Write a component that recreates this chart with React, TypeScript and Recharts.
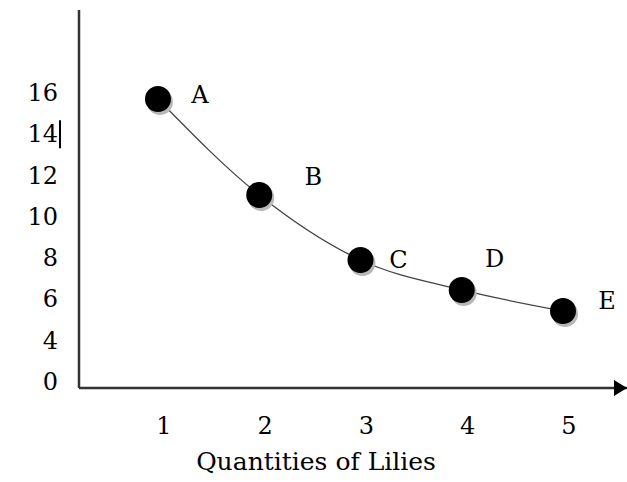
import React from 'react';
import { ComposedChart, Line, XAxis, YAxis, ReferenceDot, LabelList } from 'recharts';

const quantities = [1, 2, 3, 4, 5];
const prices = [15.71, 11.06, 7.91, 6.46, 5.44];
const pointNames = ['A', 'B', 'C', 'D', 'E'];
const xTicks = [1, 2, 3, 4, 5];
const yTickValues = [2, 4, 6, 8, 10, 12, 14, 16];
const yTickLabels = ['0', '4', '6', '8', '10', '12', '14', '16'];

const data = quantities.map((q, i) => ({ q, p: prices[i], name: pointNames[i] }));

const FONT = '"DejaVu Serif", serif';
const LABEL_OFFSETS = [
  [42, -4],
  [54, -18],
  [38, 0],
  [33, -31],
  [44, -10],
];

const X_DOMAIN: [number, number] = [0.22, 5.632];
const Y_DOMAIN: [number, number] = [1.71, 20.02];

const BigDot = (props: any) => {
  const { cx, cy } = props;
  if (cx == null || cy == null) return null;
  return (
    <g>
      <circle cx={cx + 2} cy={cy + 3} r={13} fill="#b8b8b8" />
      <circle cx={cx} cy={cy} r={13} fill="#000" />
    </g>
  );
};

const YTick = (props: any) => {
  const { y, payload } = props;
  const idx = yTickValues.indexOf(payload.value);
  const label = idx >= 0 ? yTickLabels[idx] : '';
  return (
    <g>
      <text x={58} y={y} textAnchor="end" dominantBaseline="central" fontFamily={FONT} fontSize={24} fill="#000">
        {label}
      </text>
      {label === '14' ? <rect x={59} y={y - 14} width={2} height={28} fill="#000" /> : null}
    </g>
  );
};

const XTick = (props: any) => {
  const { x, y, payload } = props;
  return (
    <text x={x + 6} y={y + 46} textAnchor="middle" fontFamily={FONT} fontSize={24} fill="#000">
      {payload.value}
    </text>
  );
};

const PointLabel = (props: any) => {
  const { x, y, index, value } = props;
  const off = LABEL_OFFSETS[index] || [40, 0];
  return (
    <text x={x + off[0]} y={y + off[1]} textAnchor="middle" dominantBaseline="central" fontFamily={FONT} fontSize={24} fill="#000">
      {value}
    </text>
  );
};

const Arrow = (props: any) => {
  const { cx, cy } = props;
  if (cx == null || cy == null) return null;
  return <polygon points={`${cx},${cy} ${cx - 13},${cy - 8} ${cx - 13},${cy + 8}`} fill="#000" />;
};

export default function App() {
  return (
    <div style={{ position: 'absolute', left: 0, top: 0, width: 627, height: 482, background: '#fff' }}>
      <ComposedChart width={627} height={482} data={data} margin={{ top: 10, right: 0, left: 0, bottom: 0 }}>
        <XAxis
          dataKey="q"
          type="number"
          domain={X_DOMAIN}
          allowDataOverflow
          ticks={xTicks}
          tick={<XTick />}
          tickLine={false}
          tickSize={0}
          tickMargin={0}
          height={94}
          axisLine={{ stroke: '#333', strokeWidth: 2.5 }}
          label={{ value: 'Quantities of Lilies', position: 'insideBottom', offset: 12, dx: -37, style: { fontFamily: FONT, fontSize: 25, fill: '#000' } }}
        />
        <YAxis
          type="number"
          domain={Y_DOMAIN}
          allowDataOverflow
          ticks={yTickValues}
          tick={<YTick />}
          tickLine={false}
          width={79}
          axisLine={{ stroke: '#333', strokeWidth: 2.5 }}
        />
        <Line
          dataKey="p"
          type="monotone"
          stroke="#444"
          strokeWidth={1.3}
          dot={<BigDot />}
          activeDot={false}
          isAnimationActive={false}
        >
          <LabelList dataKey="name" content={<PointLabel />} />
        </Line>
        <ReferenceDot x={X_DOMAIN[1]} y={Y_DOMAIN[0]} ifOverflow="visible" shape={<Arrow />} />
      </ComposedChart>
    </div>
  );
}
